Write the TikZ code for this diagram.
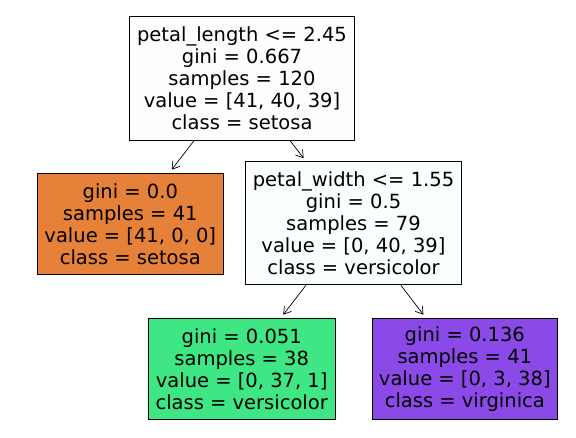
\documentclass[tikz,border=0pt]{standalone}
\usepackage{fontspec}
\setmainfont{DejaVu Sans}
\usetikzlibrary{arrows.meta}
\definecolor{rootfill}{HTML}{FFFDFC}
\definecolor{setosafill}{HTML}{E58139}
\definecolor{splitfill}{HTML}{FAFEFC}
\definecolor{versifill}{HTML}{3EE684}
\definecolor{virgifill}{HTML}{8B49E7}
\begin{document}
\begin{tikzpicture}[x=1pt,y=-1pt,
    >={Straight Barb[length=7pt,width=9pt]},
    box/.style={draw,line width=0.9pt,align=center,inner sep=0pt,
      font=\fontsize{19.5}{22}\selectfont},
    edge/.style={->,line width=0.7pt,shorten >=4pt}]
  \useasboundingbox (0,0) rectangle (576,438);
  \node[box,fill=rootfill,minimum width=225pt,minimum height=124pt] (root) at (242,78)
    {petal\_length <= 2.45\\gini = 0.667\\samples = 120\\value = [41, 40, 39]\\class = setosa};
  \node[box,fill=setosafill,minimum width=186pt,minimum height=101pt] (setosa) at (130.3,223.8)
    {gini = 0.0\\samples = 41\\value = [41, 0, 0]\\class = setosa};
  \node[box,fill=splitfill,minimum width=216pt,minimum height=123pt] (split) at (353.5,223.4)
    {petal\_width <= 1.55\\gini = 0.5\\samples = 79\\value = [0, 40, 39]\\class = versicolor};
  \node[box,fill=versifill,minimum width=187pt,minimum height=101pt] (versicolor) at (241.7,368.8)
    {gini = 0.051\\samples = 38\\value = [0, 37, 1]\\class = versicolor};
  \node[box,fill=virgifill,minimum width=185pt,minimum height=101pt] (virginica) at (464.8,368.8)
    {gini = 0.136\\samples = 41\\value = [0, 3, 38]\\class = virginica};
  \draw[edge] (root) -- (setosa);
  \draw[edge] (root) -- (split);
  \draw[edge] (split) -- (versicolor);
  \draw[edge] (split) -- (virginica);
\end{tikzpicture}
\end{document}
